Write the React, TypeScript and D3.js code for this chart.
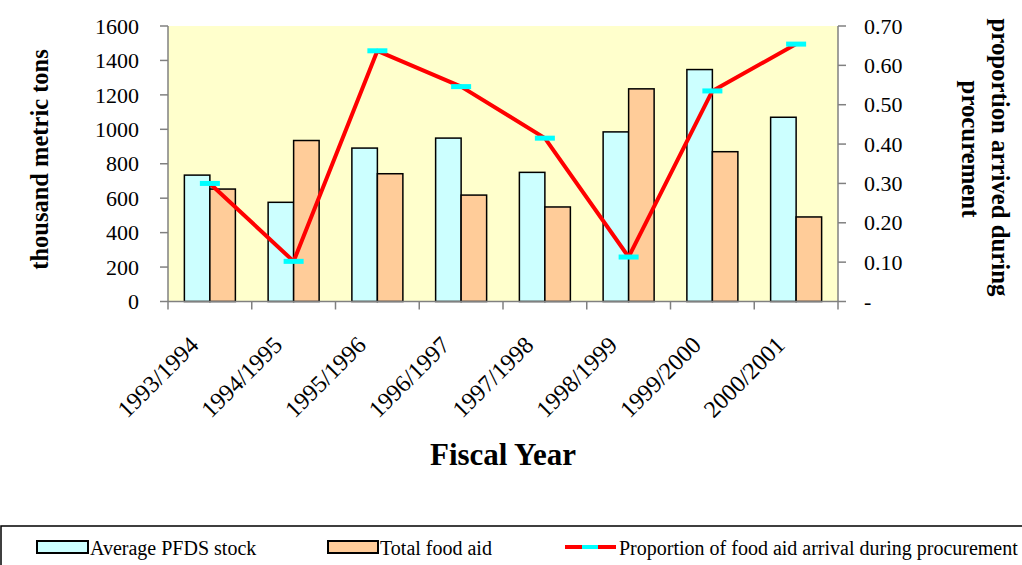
import React from "react";
import * as d3 from "d3";

const categories = ["1993/1994", "1994/1995", "1995/1996", "1996/1997", "1997/1998", "1998/1999", "1999/2000", "2000/2001"];
const pfdsStock = [734, 576, 891, 949, 750, 985, 1347, 1070];
const totalFoodAid = [653, 935, 742, 618, 549, 1235, 870, 491];
const proportion = [0.300, 0.102, 0.637, 0.546, 0.415, 0.113, 0.535, 0.654];
const leftTicks = [0, 200, 400, 600, 800, 1000, 1200, 1400, 1600];
const rightTicks = [0, 0.1, 0.2, 0.3, 0.4, 0.5, 0.6, 0.7];

const W = 1022, H = 565;
const plot = { l: 168, r: 838, t: 26, b: 301.5 };
const font = "'Liberation Serif', 'Times New Roman', serif";

export default function App() {
  const x = d3.scaleBand<string>().domain(categories).range([plot.l, plot.r]).paddingInner(0).paddingOuter(0);
  const yL = d3.scaleLinear().domain([0, 1600]).range([plot.b, plot.t]);
  const yR = d3.scaleLinear().domain([0, 0.7]).range([plot.b, plot.t]);
  const bw = x.bandwidth();
  const barW = 25.5;
  const cx = (c: string) => (x(c) as number) + bw / 2;
  const line = d3.line<number>().x((_, i) => cx(categories[i])).y((d) => yR(d));
  const axisColor = "#808080";
  const tickFont = 22;

  return (
    <svg width={W} height={H} style={{ position: "absolute", left: 0, top: 0 }} fontFamily={font}>
      <rect x={plot.l} y={plot.t} width={plot.r - plot.l} height={plot.b - plot.t} fill="#FFFFCC" />
      {categories.map((c, i) => (
        <g key={c}>
          <rect x={cx(c) - barW} y={yL(pfdsStock[i])} width={barW} height={plot.b - yL(pfdsStock[i])} fill="#CCFFFF" stroke="#000" strokeWidth={1.5} />
          <rect x={cx(c)} y={yL(totalFoodAid[i])} width={barW} height={plot.b - yL(totalFoodAid[i])} fill="#FFCC99" stroke="#000" strokeWidth={1.5} />
        </g>
      ))}
      {/* axes */}
      <line x1={plot.l} x2={plot.l} y1={plot.t} y2={plot.b} stroke={axisColor} strokeWidth={1.5} />
      <line x1={plot.r} x2={plot.r} y1={plot.t} y2={plot.b} stroke={axisColor} strokeWidth={1.5} />
      <line x1={plot.l} x2={plot.r} y1={plot.b} y2={plot.b} stroke={axisColor} strokeWidth={1.5} />
      {leftTicks.map((t) => (
        <g key={"l" + t}>
          <line x1={plot.l - 8} x2={plot.l} y1={yL(t)} y2={yL(t)} stroke={axisColor} strokeWidth={1.5} />
          <text x={139} y={yL(t)} dy="0.35em" textAnchor="end" fontSize={tickFont}>{t}</text>
        </g>
      ))}
      {rightTicks.map((t) => (
        <g key={"r" + t}>
          <line x1={plot.r} x2={plot.r + 8} y1={yR(t)} y2={yR(t)} stroke={axisColor} strokeWidth={1.5} />
          <text x={864} y={yR(t)} dy="0.35em" textAnchor="start" fontSize={tickFont}>{t === 0 ? "-" : t.toFixed(2)}</text>
        </g>
      ))}
      {categories.map((c) => (
        <line key={"b" + c} x1={x(c) as number} x2={x(c) as number} y1={plot.b} y2={plot.b + 8} stroke={axisColor} strokeWidth={1.5} />
      ))}
      <line x1={plot.r} x2={plot.r} y1={plot.b} y2={plot.b + 8} stroke={axisColor} strokeWidth={1.5} />
      {categories.map((c) => (
        <text key={"xl" + c} transform={`translate(${cx(c) - 10},${plot.b + 45}) rotate(-45)`} textAnchor="end" fontSize={24}>{c}</text>
      ))}
      {/* line series */}
      <path d={line(proportion) || ""} fill="none" stroke="#FF0000" strokeWidth={4} strokeLinejoin="round" />
      {proportion.map((p, i) => (
        <rect key={"m" + i} x={cx(categories[i]) - 10} y={yR(p) - 2.5} width={20} height={5} fill="#00FFFF" />
      ))}
      {/* axis titles */}
      <text transform={`translate(48,159.5) rotate(-90)`} textAnchor="middle" fontSize={24.5} fontWeight="bold">thousand metric tons</text>
      <text transform={`translate(992,157.5) rotate(90)`} textAnchor="middle" fontSize={24.8} fontWeight="bold">proportion arrived during</text>
      <text transform={`translate(962,149) rotate(90)`} textAnchor="middle" fontSize={24.8} fontWeight="bold">procurement</text>
      <text x={503} y={465} textAnchor="middle" fontSize={31} fontWeight="bold">Fiscal Year</text>
      {/* legend */}
      <rect x={1} y={526} width={1030} height={50} fill="#fff" stroke="#000" strokeWidth={1.5} />
      <rect x={37} y={541} width={51} height={12} fill="#CCFFFF" stroke="#000" strokeWidth={2} />
      <text x={90} y={548} dy="0.35em" fontSize={20}>Average PFDS stock</text>
      <rect x={328} y={541} width={50} height={12} fill="#FFCC99" stroke="#000" strokeWidth={2} />
      <text x={380} y={548} dy="0.35em" fontSize={20}>Total food aid</text>
      <line x1={565} x2={616} y1={547} y2={547} stroke="#FF0000" strokeWidth={4} />
      <rect x={582} y={545} width={16} height={4} fill="#00FFFF" />
      <text x={619} y={548} dy="0.35em" fontSize={20}>Proportion of food aid arrival during procurement</text>
    </svg>
  );
}
